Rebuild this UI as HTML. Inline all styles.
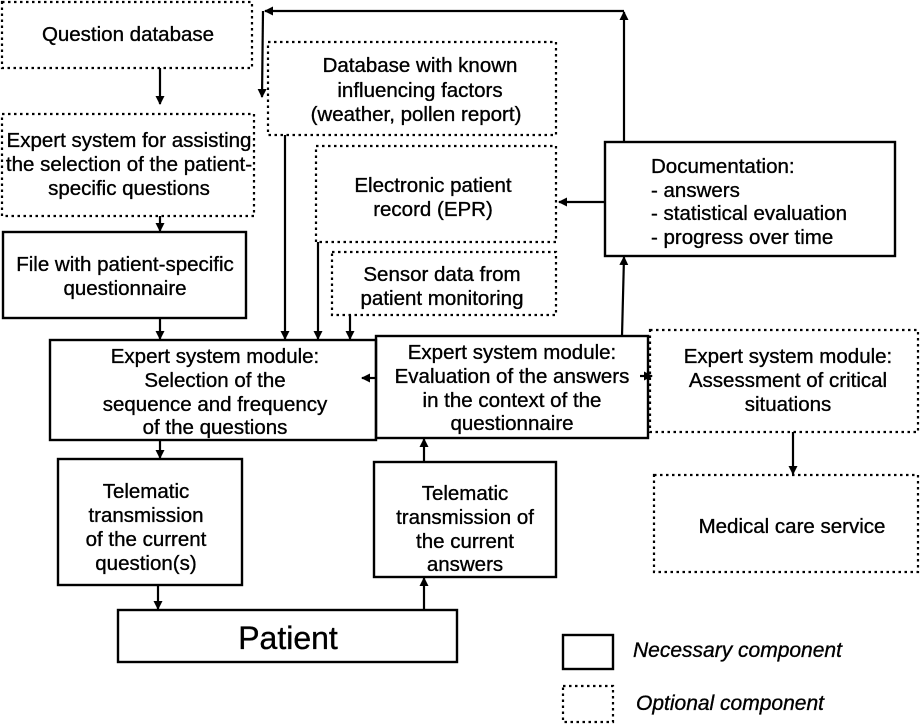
<!DOCTYPE html>
<html><head><meta charset="utf-8"><style>
html,body{margin:0;padding:0;background:#fff;}
svg{display:block;}
text{font-family:"Liberation Sans",Arial,sans-serif;font-size:20.5px;fill:#000;stroke:#000;stroke-width:0.35;text-anchor:middle;}
.s{fill:none;stroke:#000;stroke-width:2.4;}
.d{fill:none;stroke:#000;stroke-width:2.2;stroke-dasharray:2.5,3.5;}
.l{stroke:#000;stroke-width:2.2;fill:none;}
</style></head><body>
<svg width="920" height="726" viewBox="0 0 920 726" xmlns="http://www.w3.org/2000/svg">
<defs><marker id="a" markerWidth="9" markerHeight="9" refX="8" refY="4.5" orient="auto" markerUnits="userSpaceOnUse"><path d="M0,0 L9,4.5 L0,9 z" fill="#000"/></marker></defs>

<rect class="d" x="2" y="2" width="250" height="66"/>
<text x="128" y="41">Question database</text>

<rect class="d" x="268" y="42" width="288" height="93"/>
<text x="420" y="72">Database with known</text>
<text x="420" y="97">influencing factors</text>
<text x="416" y="121">(weather, pollen report)</text>

<rect class="d" x="2" y="114" width="252" height="102"/>
<text x="129" y="147">Expert system for assisting</text>
<text x="129" y="171">the selection of the patient-</text>
<text x="129" y="195">specific questions</text>

<rect class="d" x="316" y="146" width="240" height="96"/>
<text x="433" y="192">Electronic patient</text>
<text x="433" y="216">record (EPR)</text>

<rect class="s" x="3" y="232" width="243" height="86"/>
<text x="125" y="271">File with patient-specific</text>
<text x="125" y="295">questionnaire</text>

<rect class="d" x="332" y="252" width="224" height="63"/>
<text x="442" y="281">Sensor data from</text>
<text x="442" y="305">patient monitoring</text>

<rect class="s" x="605" y="142" width="290" height="114"/>
<text x="651" y="173" style="text-anchor:start">Documentation:</text>
<text x="651" y="197" style="text-anchor:start">- answers</text>
<text x="651" y="220" style="text-anchor:start">- statistical evaluation</text>
<text x="651" y="244" style="text-anchor:start">- progress over time</text>

<rect class="s" x="50" y="340" width="326" height="100"/>
<text x="215" y="363">Expert system module:</text>
<text x="215" y="387">Selection of the</text>
<text x="215" y="411">sequence and frequency</text>
<text x="215" y="434">of the questions</text>

<rect class="s" x="376" y="336" width="272" height="102"/>
<text x="512" y="359">Expert system module:</text>
<text x="512" y="383">Evaluation of the answers</text>
<text x="512" y="407">in the context of the</text>
<text x="512" y="430">questionnaire</text>

<rect class="d" x="650" y="330" width="268" height="102"/>
<text x="788" y="363">Expert system module:</text>
<text x="788" y="387">Assessment of critical</text>
<text x="788" y="411">situations</text>

<rect class="s" x="58" y="459" width="184" height="126"/>
<text x="146" y="498">Telematic</text>
<text x="146" y="522">transmission</text>
<text x="146" y="546">of the current</text>
<text x="146" y="570">question(s)</text>

<rect class="s" x="374" y="462" width="182" height="115"/>
<text x="465" y="500">Telematic</text>
<text x="465" y="524">transmission of</text>
<text x="465" y="548">the current</text>
<text x="465" y="571">answers</text>

<rect class="d" x="654" y="475" width="264" height="97"/>
<text x="792" y="533">Medical care service</text>

<rect class="s" x="118" y="610" width="339" height="52"/>
<text x="288" y="649" style="font-size:32px">Patient</text>

<rect class="s" x="563" y="635" width="50" height="34"/>
<text x="633" y="657" style="text-anchor:start;font-style:italic;font-size:21px">Necessary component</text>
<rect class="d" x="563" y="686" width="50" height="36"/>
<text x="636" y="710" style="text-anchor:start;font-style:italic;font-size:21px">Optional component</text>

<polyline class="l" points="624,142 624,12" marker-end="url(#a)"/>
<polyline class="l" points="624,11 265,11" marker-end="url(#a)"/>
<polyline class="l" points="263,11 262,97" marker-end="url(#a)"/>
<line class="l" x1="160" y1="68" x2="160" y2="104" marker-end="url(#a)"/>
<line class="l" x1="160" y1="216" x2="160" y2="231" marker-end="url(#a)"/>
<line class="l" x1="160" y1="318" x2="160" y2="339" marker-end="url(#a)"/>
<line class="l" x1="285" y1="135" x2="285" y2="339" marker-end="url(#a)"/>
<line class="l" x1="318" y1="242" x2="318" y2="339" marker-end="url(#a)"/>
<line class="l" x1="350" y1="315" x2="350" y2="339" marker-end="url(#a)"/>
<line class="l" x1="604" y1="202" x2="559" y2="202" marker-end="url(#a)"/>
<line class="l" x1="622" y1="336" x2="624" y2="257" marker-end="url(#a)"/>
<line class="l" x1="376" y1="378" x2="362" y2="378" marker-end="url(#a)"/>
<line class="l" x1="640" y1="376" x2="652" y2="376" marker-end="url(#a)"/>
<line class="l" x1="793" y1="432" x2="793" y2="474" marker-end="url(#a)"/>
<line class="l" x1="160" y1="440" x2="160" y2="458" marker-end="url(#a)"/>
<line class="l" x1="158" y1="585" x2="158" y2="609" marker-end="url(#a)"/>
<line class="l" x1="424" y1="610" x2="424" y2="578" marker-end="url(#a)"/>
<line class="l" x1="424" y1="462" x2="424" y2="439" marker-end="url(#a)"/>
</svg>
</body></html>
